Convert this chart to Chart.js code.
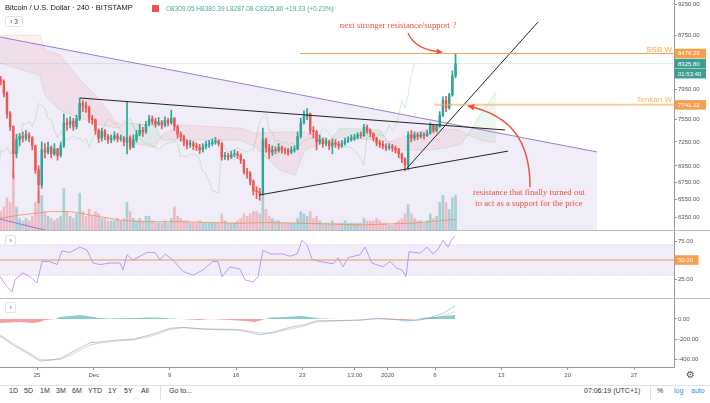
<!DOCTYPE html>
<html>
<head>
<meta charset="utf-8">
<script src="https://cdn.jsdelivr.net/npm/chart.js@4.4.1/dist/chart.umd.min.js"></script>
<style>
html,body{margin:0;padding:0;background:#fff;}
body{width:710px;height:403px;overflow:hidden;position:relative;font-family:"Liberation Sans",Arial,sans-serif;}
canvas{position:absolute;left:0;}
.t{position:absolute;white-space:nowrap;line-height:1;}
.btn{position:absolute;border:1px solid #e0e3eb;border-radius:2px;background:#fff;color:#444;font-size:6.5px;line-height:9px;text-align:center;}
.sep{position:absolute;left:0;width:710px;}
.tb{position:absolute;top:387px;font-size:7px;line-height:1;color:#333;white-space:nowrap;}
</style>
</head>
<body>
<canvas id="cMain" width="710" height="230" style="top:0px"></canvas>
<canvas id="cRsi" width="710" height="67" style="top:231px"></canvas>
<canvas id="cMacd" width="710" height="86" style="top:299px"></canvas>
<div class="sep" style="top:230px;height:1px;background:#b9bcc4"></div>
<div class="sep" style="top:298px;height:1px;background:#b9bcc4"></div>
<div class="sep" style="top:385px;height:1px;background:#e0e3eb"></div>

<div class="t" style="left:5px;top:4px;font-size:7.5px;color:#131722">Bitcoin / U.S. Dollar · 240 · BITSTAMP</div>
<div style="position:absolute;left:152px;top:5px;width:7px;height:7px;background:#ef5350"></div>
<div class="t" style="left:166px;top:5.5px;font-size:6.5px;color:#45ad9f">O8309.05 H8380.39 L8287.08 C8325.80 +19.33 (+0.23%)</div>
<div class="btn" style="left:5px;top:16px;width:16px;height:9px">›&nbsp;3</div>
<div class="btn" style="left:5px;top:235px;width:9px;height:9px">›</div>
<div class="btn" style="left:5px;top:302px;width:9px;height:9px">›</div>
<div class="t" style="left:686px;top:370px;font-size:10px;color:#555;font-family:'DejaVu Sans'">⚙</div>

<div class="tb" style="left:9px">1D</div>
<div class="tb" style="left:24px">5D</div>
<div class="tb" style="left:40px">1M</div>
<div class="tb" style="left:56px">3M</div>
<div class="tb" style="left:72px">6M</div>
<div class="tb" style="left:88px">YTD</div>
<div class="tb" style="left:108px">1Y</div>
<div class="tb" style="left:124px">5Y</div>
<div class="tb" style="left:141px">All</div>
<div style="position:absolute;left:160px;top:386px;width:1px;height:14px;background:#e0e3eb"></div>
<div class="tb" style="left:169px">Go to...</div>
<div class="tb" style="left:584px">07:06:19 (UTC+1)</div>
<div style="position:absolute;left:650px;top:386px;width:1px;height:14px;background:#e0e3eb"></div>
<div class="tb" style="left:657px">%</div>
<div class="tb" style="left:674px;color:#2196f3">log</div>
<div class="tb" style="left:691px;color:#2196f3">auto</div>

<script>
// ---------- DATA (x values are days since 25 Nov 2019 00:00) ----------
const X_MIN = -3.905, X_MAX = 67.22;
const FIRST_CANDLE_DAY = -4;     // 21 Nov 2019 00:00
const CANDLE_DAYS = 1/3;         // 8h candles
const CHIKOU_SHIFT_DAYS = 13/3;  // lagging span displacement
const firstOpen = 8100;
const closes = [
 8070,7900,7620, 7450,7100,7280, 7320,7300,7340, 7300,7200,6900, 6720,7150,7120,
 7180,7100,7160, 7080,7200,7500, 7480,7520,7450, 7550,7760,7730, 7700,7560,7540,
 7400,7300,7390, 7320,7280,7300, 7330,7290,7300, 7250,7300,7180, 7280,7350,7400,
 7380,7480,7550, 7520,7480,7510, 7470,7530,7500, 7560,7450,7350, 7320,7260,7220,
 7230,7200,7180, 7150,7190,7220, 7230,7250,7260, 7230,7060,7080, 7060,7090,7100,
 7080,7020,6880, 6860,6760,6650, 6640,6620,7280, 7180,7120,7150, 7140,7180,7150,
 7140,7120,7150, 7160,7320,7500, 7580,7620,7400, 7380,7250,7280, 7230,7260,7200,
 7240,7220,7200, 7230,7260,7280, 7300,7310,7340, 7330,7440,7400, 7360,7300,7240,
 7220,7200,7180, 7190,7170,7150, 7100,7040,6960, 7340,7300,7340, 7320,7350,7330,
 7360,7470,7400, 7450,7600,7800, 7700,7880,8150, 8325.80];
const highs = [
 8140,8090,7920, 7650,7460,7350, 7360,7380,7400, 7370,7320,7210, 6950,7250,7230,
 7250,7200,7230, 7170,7250,7620, 7560,7580,7560, 7600,7835,7800, 7780,7720,7600,
 7550,7420,7430, 7410,7350,7340, 7380,7360,7340, 7320,7790,7330, 7340,7400,7480,
 7440,7520,7600, 7590,7560,7570, 7530,7580,7560, 7670,7570,7470, 7380,7340,7280,
 7270,7260,7240, 7220,7230,7260, 7270,7290,7310, 7280,7240,7120, 7110,7130,7150,
 7130,7100,7030, 6920,6880,6780, 6700,6680,7430, 7300,7220,7200, 7190,7230,7200,
 7180,7170,7190, 7200,7380,7560, 7660,7690,7630, 7450,7400,7340, 7300,7300,7270,
 7290,7280,7260, 7270,7300,7320, 7340,7350,7370, 7380,7480,7470, 7420,7370,7310,
 7270,7260,7230, 7230,7220,7200, 7170,7110,7050, 7380,7400,7380, 7370,7380,7370,
 7400,7500,7480, 7480,7650,7850, 7860,7900,8220, 8470];
const lows = [
 8020,7850,7560, 7400,6800,7050, 7200,7250,7270, 7250,7150,6860, 6510,6680,7050,
 7100,7050,7080, 7020,7060,7180, 7400,7430,7400, 7420,7530,7650, 7640,7500,7480,
 7350,7240,7260, 7280,7230,7240, 7270,7250,7260, 7200,7100,7150, 7180,7250,7330,
 7320,7360,7460, 7480,7440,7460, 7420,7450,7460, 7480,7400,7300, 7260,7200,7160,
 7180,7150,7140, 7100,7120,7160, 7180,7200,7220, 7200,7020,7030, 7020,7040,7060,
 7040,6980,6850, 6800,6720,6600, 6560,6540,6600, 7120,7040,7080, 7100,7120,7110,
 7100,7080,7100, 7120,7150,7300, 7480,7540,7350, 7300,7150,7220, 7180,7200,7150,
 7100,7180,7160, 7180,7210,7240, 7260,7270,7290, 7300,7320,7360, 7320,7260,7200,
 7180,7160,7140, 7150,7130,7110, 7050,6990,6890, 6900,7250,7270, 7280,7300,7290,
 7320,7350,7370, 7380,7440,7580, 7650,7680,7860, 8120];
const volumes = [
 8,10,14, 12,25,10, 5,4,5, 4,6,12, 17,15,8, 6,5,4, 5,6,18, 8,6,5, 7,16,8, 6,9,6,
 8,7,5, 5,4,4, 4,5,4, 5,12,8, 5,4,5, 4,6,6, 4,3,3, 3,4,3, 5,10,6, 5,4,4,
 3,3,3, 4,3,3, 3,3,3, 3,7,4, 3,3,3, 4,5,7, 6,7,8, 8,7,15, 9,6,5, 4,4,3,
 3,3,3, 3,5,8, 7,6,8, 5,6,4, 3,3,3, 4,3,3, 3,4,3, 3,3,3, 3,5,4, 4,4,5,
 4,3,3, 2,2,3, 4,5,7, 11,7,5, 4,4,3, 4,7,5, 6,12,15, 12,9,14, 15];
const volMaDays   = [-3.9,-1.8,1.37,3.48,4.54,6.65,8.76,10.87,15.1,21.4,23.85,27.4,34.4,39.7,44.2];
const volMaValues = [5.1,6.5,8.0,8.0,7.3,5.8,4.3,3.6,3.6,2.9,3.2,3.0,2.2,3.0,4.6];

// Ichimoku cloud (leading spans)
const cloudDays  = [-3.9,0.32,0.84,2.43,4.54,6.65,8.55,9.29,12.45,13.19,15.09,21.42,23.01,25.64,27.23,28.28,30.92,31.97,36.2,37.04,37.78,41.47,44.64,45.48,46.75,47.8,48.43];
const spanA = [8334,8159,7876,7669,7563,7470,7430,7496,7470,7275,7275,7275,7185,6899,6838,7148,7275,7430,7405,7249,7148,7148,7211,7339,7603,7808,7918];
const spanB = [8757,8757,8527,8453,8087,7808,7470,7249,7185,7339,7470,7430,7365,7378,7378,7378,7275,7300,7275,7249,7275,7430,7405,7339,7275,7249,7249];

// price scale
const priceTicks = [9250,8750,7950,7550,7250,6950,6750,6550,6350];
const PRICE_MIN = 6206, PRICE_MAX = 9316;
const ssbLevel = 8476.29, tenkanLevel = 7741.22, lastPrice = 8325.80, countdown = '01:53:40';

// drawings (day, price)
const purpleUpper = [[-3.905,8726],[59.1,7123]];
const purpleLower = [[-3.905,6327],[2.43,6165]];
const trend1 = [[4.54,7835],[49.39,7405]];
const trend2 = [[23.43,6601],[49.7,7134]];
const trend3 = [[39.05,6923],[52.87,8960]];
const ssbStartDay = 27.75, tenkanStartDay = 41.9;

// RSI
const rsiDays = [-3.9,-3.17,-2.64,-2.32,-1.48,-0.74,0,0.53,1.37,2.11,2.64,3.48,4.54,5.28,5.91,6.65,7.7,8.76,9.08,9.5,10.13,11.61,12.45,12.98,13.51,14.35,15.41,16.46,17.52,18.57,19.1,19.52,20.37,21.42,21.95,22.79,23.32,23.85,24.59,25.96,26.7,27.44,27.97,28.49,29.02,29.86,31.24,31.76,32.29,32.82,34.09,34.61,35.35,36.51,37.25,37.99,38.52,38.94,39.26,40.42,41.16,41.79,42.32,42.85,43.37,43.8,44.11];
const rsiValues = [28,15,8,24,33,28,20,48,48,44,62,60,67,63,46,44,46,46,37,57,50,60,60,50,58,50,35,30,37,48,48,28,41,38,24,21,28,63,58,58,55,58,76,70,51,48,45,53,41,53,57,67,46,41,48,39,37,28,61,59,67,58,64,76,67,78,81];
const rsiUpper = 70, rsiMid = 50, rsiLower = 30;

// MACD
const macdDays = [-3.9,-2.53,-1.06,0.32,1.37,2.43,3.8,5.59,6.65,8.44,10.13,11.92,14.04,15.41,17.2,19,21.11,22.16,23.53,24.9,26.7,28.07,29.55,31.24,34.09,35.88,37.57,39.05,40.42,41.79,42.85,43.58,44.11];
const macdValues   = [-170,-260,-340,-420,-410,-395,-327,-237,-230,-210,-203,-160,-93,-83,-100,-107,-110,-127,-157,-133,-83,-60,-17,-17,-10,7,-3,-20,-7,23,57,100,130];
const signalValues = [-160,-245,-325,-405,-410,-405,-350,-260,-240,-220,-210,-175,-105,-88,-95,-100,-105,-115,-140,-140,-100,-75,-30,-20,-12,2,0,-12,-10,10,30,55,75];
const histDays   = [-3.9,-2.85,-1.8,-0.42,0.32,0.84,1.9,2.43,3.48,4.54,5.59,6.65,7.7,8.76,10.34,11.92,12.98,14.04,15.09,16.15,17.2,18.26,20.37,21.95,23.01,23.74,24.59,26.17,27.75,28.81,29.86,31.97,36.2,37.78,38.83,39.89,40.95,42,43.06,44.11];
const histValues = [-40,-35,-30,-40,-30,-10,0,20,30,40,25,10,5,8,10,15,12,5,0,-5,-10,0,-10,-20,-30,-10,15,20,30,20,5,0,0,-5,-10,0,10,20,30,40];

// x axis labels
const xTickDays   = [0,6,14,21,28,33.54,37,42,49,56,63];
const xTickLabels = ['25','Dec','9','16','23','13:00','2020','6','13','20','27'];

// notes
const noteTop = {d:38.1, p:8897, text:'next stronger resistance/support ?'};
const noteBottom = [{d:51.92, p:6624, text:'resistance that finally turned out'},{d:51.92, p:6497, text:'to act as a support for the price'}];
const arrow1 = [[39.15,8788],[39.89,8527],[42.74,8498]];
const arrow2 = [[52.03,6694],[52.03,7275],[49.92,7603],[45.48,7725]];

// ---------- RENDER ----------
const FONT = 'Liberation Sans';
Chart.defaults.font.family = FONT;
const UP = '#2aa596', DOWN = '#ec5753';
const AXIS_COL = '#9598a1';
const pts = arr => arr.map(a => ({x:a[0], y:a[1]}));
const candleX = i => FIRST_CANDLE_DAY + (i + 0.5) * CANDLE_DAYS;
const opens = closes.map((c,i) => i === 0 ? firstOpen : closes[i-1]);
const isUp = i => closes[i] >= opens[i];

function yAxis(extra) {
  return Object.assign({
    position:'right',
    afterFit: s => { s.width = 36; s.paddingTop = 0; s.paddingBottom = 0; },
    grid:{drawOnChartArea:false, tickLength:3, color:AXIS_COL},
    border:{display:true, color:AXIS_COL},
    ticks:{font:{size:6, family:FONT}, color:'#555', padding:1, autoSkip:false, callback: v => Number(v).toFixed(2)}
  }, extra);
}
function xHidden() {
  return {type:'linear', min:X_MIN, max:X_MAX, display:false, offset:false, grid:{offset:false},
          afterFit: s => { s.paddingLeft = 0; s.paddingRight = 0; }};
}
const baseOpts = {responsive:false, animation:false, devicePixelRatio:1, events:[],
  layout:{padding:0}, plugins:{legend:{display:false}, tooltip:{enabled:false}}};

function line(data, color, width, extra) {
  return Object.assign({type:'line', data, borderColor:color, borderWidth:width, pointRadius:0, fill:false, tension:0, yAxisID:'y'}, extra||{});
}

function arrowHead(ctx, fx, fy, tx, ty, size) {
  const a = Math.atan2(ty-fy, tx-fx);
  ctx.beginPath();
  ctx.moveTo(tx, ty);
  ctx.lineTo(tx - size*Math.cos(a-0.5), ty - size*Math.sin(a-0.5));
  ctx.lineTo(tx - size*Math.cos(a+0.5), ty - size*Math.sin(a+0.5));
  ctx.closePath(); ctx.fill();
}
const RED_NOTE = '#e8523e';
const mainNotes = {
  id:'mainNotes',
  afterDatasetsDraw(chart) {
    const {ctx, scales:{x, y}} = chart;
    const P = (d,p) => [x.getPixelForValue(d), y.getPixelForValue(p)];
    ctx.save();
    ctx.font = '8px "Liberation Sans"'; ctx.textAlign = 'right'; ctx.textBaseline = 'alphabetic';
    ctx.fillStyle = '#f5a04e'; ctx.fillText('SSB W', x.right - 2, y.getPixelForValue(ssbLevel) - 1.5);
    ctx.fillStyle = '#f6b26e'; ctx.fillText('Tenkan W', x.right - 2, y.getPixelForValue(tenkanLevel) - 2.5);
    ctx.fillStyle = RED_NOTE; ctx.strokeStyle = RED_NOTE;
    ctx.font = '8.7px "Liberation Serif"'; ctx.textAlign = 'center'; ctx.textBaseline = 'middle';
    let q = P(noteTop.d, noteTop.p); ctx.fillText(noteTop.text, q[0], q[1]);
    noteBottom.forEach(n => { const r = P(n.d, n.p); ctx.fillText(n.text, r[0], r[1]); });
    ctx.lineWidth = 1.4;
    const a = arrow1.map(v => P(v[0], v[1]));
    ctx.beginPath(); ctx.moveTo(a[0][0], a[0][1]); ctx.quadraticCurveTo(a[1][0], a[1][1], a[2][0], a[2][1]); ctx.stroke();
    arrowHead(ctx, a[1][0], a[1][1], a[2][0], a[2][1], 6);
    const b = arrow2.map(v => P(v[0], v[1]));
    ctx.beginPath(); ctx.moveTo(b[0][0], b[0][1]); ctx.bezierCurveTo(b[1][0], b[1][1], b[2][0], b[2][1], b[3][0], b[3][1]); ctx.stroke();
    arrowHead(ctx, b[2][0], b[2][1], b[3][0], b[3][1], 7);
    ctx.restore();
  },
  afterDraw(chart) {
    const {ctx, scales:{y}} = chart;
    const boxes = [
      {v:ssbLevel, text:ssbLevel.toFixed(2), bg:'#f5a04e', dy:0},
      {v:lastPrice, text:lastPrice.toFixed(2), bg:'#3c9e91', dy:0},
      {v:lastPrice, text:countdown, bg:'#3c9e91', dy:10},
      {v:tenkanLevel, text:tenkanLevel.toFixed(2), bg:'#f5a04e', dy:0}
    ];
    ctx.save();
    ctx.font = '6px "Liberation Sans"'; ctx.textAlign = 'left'; ctx.textBaseline = 'middle';
    boxes.forEach(bx => {
      const py = y.getPixelForValue(bx.v) + bx.dy;
      ctx.fillStyle = bx.bg; ctx.fillRect(y.left + 0.5, py - 4.8, 31.5, 9.6);
      ctx.fillStyle = '#fff'; ctx.fillText(bx.text, y.left + 4, py + 0.3);
    });
    ctx.restore();
  }
};

const candleData = closes.map((c,i) => ({x:candleX(i), y:[opens[i], c]}));
const wickData = closes.map((c,i) => ({x:candleX(i), y:[lows[i], highs[i]]}));
const volData = volumes.map((v,i) => ({x:candleX(i), y:v}));
const chikouData = closes.map((c,i) => ({x:candleX(i) - CHIKOU_SHIFT_DAYS, y:c}));

new Chart(document.getElementById('cMain'), {
  type:'bar',
  data:{datasets:[
    line(pts(purpleUpper), '#9a7ccf', 1, {fill:'start', backgroundColor:'rgba(126,87,194,0.11)', order:7}),            //0
    line(pts(purpleLower), '#9a7ccf', 1, {order:7}),                                                                  //1
    line(cloudDays.map((d,i)=>({x:d,y:spanB[i]})), 'rgba(239,83,80,0.22)', 0.7, {order:8}),                           //2
    line(cloudDays.map((d,i)=>({x:d,y:spanA[i]})), 'rgba(76,175,80,0.25)', 0.7, {order:8,
         fill:{target:2, above:'rgba(76,175,80,0.1)', below:'rgba(239,83,80,0.09)'}}),                              //3
    line(chikouData, 'rgba(102,187,106,0.4)', 0.7, {order:6}),                                                         //4
    {type:'bar', data:volData, yAxisID:'yv', grouped:false, barThickness:2, order:10,
     backgroundColor: volumes.map((v,i) => isUp(i) ? 'rgba(38,166,154,0.38)' : 'rgba(239,83,80,0.33)')},               //5
    line(volMaDays.map((d,i)=>({x:d,y:volMaValues[i]})), 'rgba(245,150,80,0.8)', 1, {yAxisID:'yv', order:9}),          //6
    {type:'bar', data:wickData, yAxisID:'y', grouped:false, barThickness:1, order:5,
     backgroundColor: closes.map((c,i) => isUp(i) ? UP : DOWN)},                                                      //7
    {type:'bar', data:candleData, yAxisID:'y', grouped:false, barThickness:1.8, order:4,
     backgroundColor: closes.map((c,i) => isUp(i) ? UP : DOWN)},                                                      //8
    line(pts(trend1), '#222', 1, {order:2}),
    line(pts(trend2), '#222', 1, {order:2}),
    line(pts(trend3), '#222', 1, {order:2}),
    line([{x:ssbStartDay,y:ssbLevel},{x:X_MAX,y:ssbLevel}], '#f5a04e', 1, {order:1}),
    line([{x:tenkanStartDay,y:tenkanLevel},{x:X_MAX,y:tenkanLevel}], 'rgba(246,170,90,0.6)', 2, {order:1}),
    line([{x:X_MIN,y:lastPrice},{x:X_MAX,y:lastPrice}], 'rgba(60,158,145,0.35)', 1, {order:1, borderDash:[1,1]})
  ]},
  options: Object.assign({}, baseOpts, {
    scales:{
      x: xHidden(),
      y: yAxis({type:'logarithmic', min:PRICE_MIN, max:PRICE_MAX,
                afterBuildTicks: s => { s.ticks = priceTicks.map(v => ({value:v})); }}),
      yv: {type:'linear', display:false, min:0, max:100}
    }
  }),
  plugins:[mainNotes]
});

// RSI pane
const rsiBox = {
  id:'rsiBox',
  afterDraw(chart) {
    const {ctx, scales:{y}} = chart;
    const py = y.getPixelForValue(rsiMid);
    ctx.save();
    ctx.fillStyle = '#f5a04e'; ctx.fillRect(y.left + 0.5, py - 4.8, 24, 9.6);
    ctx.fillStyle = '#fff'; ctx.font = '6px "Liberation Sans"'; ctx.textBaseline = 'middle';
    ctx.fillText(rsiMid.toFixed(2), y.left + 4, py + 0.3);
    ctx.restore();
  }
};
new Chart(document.getElementById('cRsi'), {
  type:'line',
  data:{datasets:[
    line([{x:X_MIN,y:rsiUpper},{x:X_MAX,y:rsiUpper}], 'rgba(149,117,205,0.3)', 1, {borderDash:[1.5,1.5], fill:{target:1}, backgroundColor:'rgba(126,87,194,0.1)'}),
    line([{x:X_MIN,y:rsiLower},{x:X_MAX,y:rsiLower}], 'rgba(149,117,205,0.3)', 1, {borderDash:[1.5,1.5]}),
    line([{x:X_MIN,y:rsiMid},{x:X_MAX,y:rsiMid}], '#f5a04e', 1.2),
    line(rsiDays.map((d,i)=>({x:d,y:rsiValues[i]})), '#c49cf8', 1)
  ]},
  options: Object.assign({}, baseOpts, {
    scales:{
      x: xHidden(),
      y: yAxis({type:'linear', min:0, max:88.2, afterBuildTicks: s => { s.ticks = [25,50,75].map(v => ({value:v})); }})
    }
  }),
  plugins:[rsiBox]
});

// MACD pane
new Chart(document.getElementById('cMacd'), {
  type:'line',
  data:{datasets:[
    line(histDays.map((d,i)=>({x:d,y:histValues[i]})), 'rgba(0,0,0,0)', 0,
         {fill:{target:'origin', above:'rgba(38,166,154,0.55)', below:'rgba(239,83,80,0.55)'}}),
    line(macdDays.map((d,i)=>({x:d,y:macdValues[i]})), 'rgba(33,150,243,0.45)', 1),
    line(macdDays.map((d,i)=>({x:d,y:signalValues[i]})), 'rgba(255,130,60,0.4)', 1)
  ]},
  options: Object.assign({}, baseOpts, {
    scales:{
      x: {type:'linear', min:X_MIN, max:X_MAX, offset:false, position:'bottom',
          afterBuildTicks: s => { s.ticks = xTickDays.map(v => ({value:v})); },
          afterFit: s => { s.height = 18; s.paddingLeft = 0; s.paddingRight = 0; },
          ticks:{autoSkip:false, maxRotation:0, font:{size:6, family:FONT}, color:'#555', padding:2,
                 callback:(v,i) => xTickLabels[i]},
          grid:{drawOnChartArea:false, tickLength:3, color:AXIS_COL},
          border:{display:true, color:AXIS_COL}},
      y: yAxis({type:'linear', min:-480, max:200, afterBuildTicks: s => { s.ticks = [-400,-200,0].map(v => ({value:v})); }})
    }
  })
});
</script>
</body>
</html>
